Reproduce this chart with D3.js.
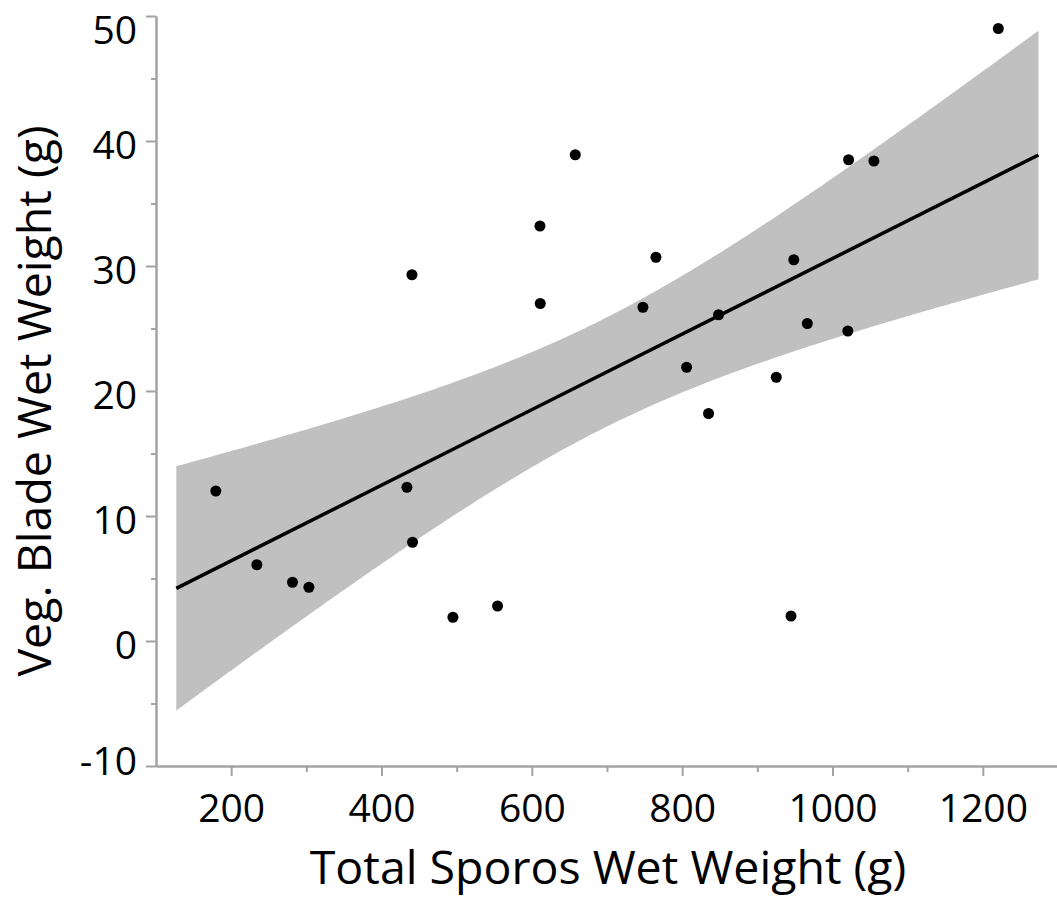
<!DOCTYPE html>
<html>
<head>
<meta charset="utf-8">
<script src="https://cdn.jsdelivr.net/npm/d3@7"></script>
<style>
	body { margin: 0; background: #fff; }
	svg { display: block; }
</style>
</head>
<body>
<svg id="chart" width="1057" height="902"></svg>
<script>
	/*globals d3*/
	'use strict';

	// values
	var sporosWeight = [179.6, 234.2, 281.6, 303.4, 433.8, 441.3, 440.5, 495.0, 554.4, 610.8, 611.2, 657.8,
		747.8, 765.1, 805.9, 835.1, 848.4, 925.2, 944.8, 948.5, 966.5, 1020.4, 1021.4, 1055.1, 1220.6];
	var bladeWeight = [12.0, 6.1, 4.7, 4.3, 12.3, 7.9, 29.3, 1.9, 2.8, 33.2, 27.0, 38.9,
		26.7, 30.7, 21.9, 18.2, 26.1, 21.1, 2.0, 30.5, 25.4, 24.8, 38.5, 38.4, 49.0];

	var xTicks = [200, 400, 600, 800, 1000, 1200];
	var xMinorTicks = [300, 500, 700, 900, 1100];
	var yTicks = [-10, 0, 10, 20, 30, 40, 50];
	var yMinorTicks = [-5, 5, 15, 25, 35, 45];
	var xDomain = [100, 1300];
	var yDomain = [-10, 50];

	var xTitle = 'Total Sporos Wet Weight (g)';
	var yTitle = 'Veg. Blade Wet Weight (g)';

	// span of the fitted line and 95% band for the mean
	var fitRange = [127, 1274];
	var tCritical = 2.0687; // t(0.975, n-2 = 23)

	var axisColor = '#a3a3a3';
	var fontFamily = '"Open Sans", "Noto Sans", sans-serif';

	var svg = d3.select('#chart');

	var x = d3.scaleLinear().domain(xDomain).range([156, 1058]);
	var y = d3.scaleLinear().domain(yDomain).range([766, 16]);

	var fit = linearFit(sporosWeight, bladeWeight);

	// confidence band
	var bandX = d3.range(fitRange[0], fitRange[1], 5).concat([fitRange[1]]);
	var band = bandX.map(function (v) {
		var half = tCritical * fit.s * Math.sqrt(1 / fit.n + (v - fit.meanX) * (v - fit.meanX) / fit.sxx);
		var yHat = fit.intercept + fit.slope * v;
		return {x: v, lo: yHat - half, hi: yHat + half};
	});

	svg.append('path')
		.datum(band)
		.attr('fill', '#c0c0c0')
		.attr('stroke', 'none')
		.attr('d', d3.area()
			.x(function (d) { return x(d.x); })
			.y0(function (d) { return y(d.lo); })
			.y1(function (d) { return y(d.hi); }));

	// fitted line
	svg.append('path')
		.datum(fitRange)
		.attr('fill', 'none')
		.attr('stroke', '#000')
		.attr('stroke-width', 3.5)
		.attr('d', d3.line()
			.x(function (d) { return x(d); })
			.y(function (d) { return y(fit.intercept + fit.slope * d); }));

	// points
	svg.append('g')
		.selectAll('circle')
		.data(sporosWeight)
		.enter()
		.append('circle')
		.attr('cx', function (d) { return x(d); })
		.attr('cy', function (d, i) { return y(bladeWeight[i]); })
		.attr('r', 5.5)
		.attr('fill', '#000');

	// x axis
	var xAxisG = svg.append('g').attr('transform', 'translate(0,' + y(yDomain[0]) + ')');
	xAxisG.append('g')
		.call(d3.axisBottom(x).tickValues(xMinorTicks).tickSize(6).tickSizeOuter(0).tickFormat(''));
	xAxisG.append('g')
		.call(d3.axisBottom(x).tickValues(xTicks).tickSize(10).tickSizeOuter(0).tickPadding(18)
			.tickFormat(function (d) { return String(d); }));

	// y axis
	var yAxisG = svg.append('g').attr('transform', 'translate(' + x(xDomain[0]) + ',0)');
	yAxisG.append('g')
		.call(d3.axisLeft(y).tickValues(yMinorTicks).tickSize(5).tickSizeOuter(0).tickFormat(''));
	yAxisG.append('g')
		.call(d3.axisLeft(y).tickValues(yTicks).tickSize(10).tickSizeOuter(0).tickPadding(9)
			.tickFormat(function (d) { return d < 0 ? '-' + Math.abs(d) : String(d); }));

	// keep end labels inside the frame, like the original
	yAxisG.selectAll('.tick text')
		.attr('dy', 0)
		.attr('y', function (d) {
			var base = Math.max(43, Math.min(774, y(d) + 17.5));
			return base - y(d);
		});

	svg.selectAll('.domain, .tick line')
		.attr('stroke', axisColor)
		.attr('stroke-width', 2);
	svg.selectAll('.tick text')
		.attr('fill', '#000')
		.style('font-family', fontFamily)
		.style('font-size', '39px');

	// axis titles
	svg.append('text')
		.attr('x', 608)
		.attr('y', 884)
		.attr('text-anchor', 'middle')
		.style('font-family', fontFamily)
		.style('font-size', '46.5px')
		.text(xTitle);

	svg.append('text')
		.attr('transform', 'translate(51,401) rotate(-90)')
		.attr('text-anchor', 'middle')
		.style('font-family', fontFamily)
		.style('font-size', '46.5px')
		.text(yTitle);

	function linearFit(xs, ys) {
		var n = xs.length;
		var meanX = d3.mean(xs);
		var meanY = d3.mean(ys);
		var sxx = 0, sxy = 0, ssRes = 0;
		for (var i = 0; i < n; i++) {
			sxx += (xs[i] - meanX) * (xs[i] - meanX);
			sxy += (xs[i] - meanX) * (ys[i] - meanY);
		}
		var slope = sxy / sxx;
		var intercept = meanY - slope * meanX;
		for (var j = 0; j < n; j++) {
			var r = ys[j] - (intercept + slope * xs[j]);
			ssRes += r * r;
		}
		return {
			n: n, meanX: meanX, sxx: sxx, slope: slope, intercept: intercept,
			s: Math.sqrt(ssRes / (n - 2))
		};
	}
</script>
</body>
</html>
